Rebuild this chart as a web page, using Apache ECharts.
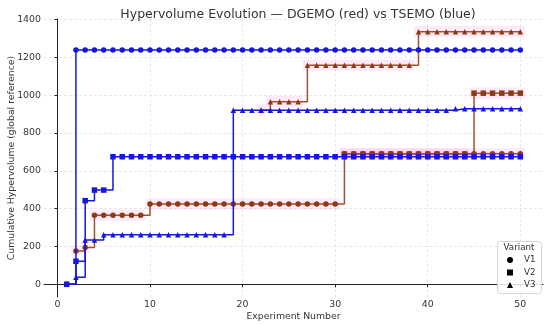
<!DOCTYPE html>
<html>
<head>
<meta charset="utf-8">
<script src="https://cdn.jsdelivr.net/npm/echarts@6/dist/echarts.min.js"></script>
<style>html,body{margin:0;padding:0;background:#fff;}#c{width:550px;height:325px;}</style>
</head>
<body>
<div id="c"></div>
<script>
const experiments = [1,2,3,4,5,6,7,8,9,10,11,12,13,14,15,16,17,18,19,20,21,22,23,24,25,26,27,28,29,30,31,32,33,34,35,36,37,38,39,40,41,42,43,44,45,46,47,48,49,50];
const xTicks = [0,10,20,30,40,50];
const yTicks = [0,200,400,600,800,1000,1200,1400];
const variants = ['V1','V2','V3'];

// TSEMO (blue)
const tsemoV1 = [0,1238,1238,1238,1238,1238,1238,1238,1238,1238,1238,1238,1238,1238,1238,1238,1238,1238,1238,1238,1238,1238,1238,1238,1238,1238,1238,1238,1238,1238,1238,1238,1238,1238,1238,1238,1238,1238,1238,1238,1238,1238,1238,1238,1238,1238,1238,1238,1238,1238];
const tsemoV2 = [0,122,442,498,498,674,674,674,674,674,674,674,674,674,674,674,674,674,674,674,674,674,674,674,674,674,674,674,674,674,674,674,674,674,674,674,674,674,674,674,674,674,674,674,674,674,674,674,674,674];
const tsemoV3 = [0,38,234,234,262,262,262,262,262,262,262,262,262,262,262,262,262,262,920,920,920,920,920,920,920,920,920,920,920,920,920,920,920,920,920,920,920,920,920,920,920,920,928,928,928,928,928,928,928,928];

// DGEMO (red)
const dgemoV1 = [null,176,194,365,365,365,365,365,365,425,425,425,425,425,425,425,425,425,425,425,425,425,425,425,425,425,425,425,425,425,690,690,690,690,690,690,690,690,690,690,690,690,690,690,690,690,690,690,690,690];
const dgemoV2 = [null,null,null,null,null,null,null,null,null,null,null,null,null,null,null,null,null,null,null,null,null,null,null,null,null,null,null,null,null,null,688,688,688,688,688,688,688,688,688,688,688,688,688,688,1010,1010,1010,1010,1010,1010];
const dgemoV3 = [null,null,null,null,null,null,null,null,null,null,null,null,null,null,null,null,null,null,null,null,null,921,965,965,965,965,1158,1158,1158,1158,1158,1158,1158,1158,1158,1158,1158,1158,1335,1335,1335,1335,1335,1335,1335,1335,1335,1335,1335,1335];
const bandHalf = 30;

const symbols = ['circle','rect','triangle'];
const symSizes = [5.5,5.5,5.5];
const BLUE = '#1616dc';
const BROWN_LINE = '#a0522d';
const BROWN_MARK = '#8b3a14';

function pairs(arr){ return experiments.map((x,i)=> arr[i]==null ? null : [x, arr[i]]).filter(p=>p); }

function bandSeries(arr){
  return {
    type:'custom', silent:true, z:1,
    data: pairs(arr),
    renderItem: function(params, api){
      const x = api.value(0), y = api.value(1);
      const p1 = api.coord([x-0.5, y+bandHalf]);
      const p2 = api.coord([x+0.5, y-bandHalf]);
      return {type:'rect', shape:{x:p1[0], y:p1[1], width:p2[0]-p1[0], height:p2[1]-p1[1]},
        style:{fill:'rgba(255,60,210,0.11)'}};
    }
  };
}
function lineSeries(arr, idx, lineColor, markColor, z){
  return {
    type:'line', step:'end', z:z, silent:true,
    data: pairs(arr),
    symbol: symbols[idx], symbolSize: symSizes[idx], showSymbol:true,
    lineStyle:{color:lineColor, width:1.5},
    itemStyle:{color:markColor, borderWidth:0},
    animation:false
  };
}

const dg = [dgemoV1,dgemoV2,dgemoV3];
const ts = [tsemoV1,tsemoV2,tsemoV3];
const series = [];
dg.forEach(a=>series.push(bandSeries(a)));
dg.forEach((a,i)=>series.push(lineSeries(a,i,BROWN_LINE,BROWN_MARK,3)));
ts.forEach((a,i)=>series.push(lineSeries(a,i,BLUE,BLUE,4)));
variants.forEach((v,i)=>series.push({type:'line', name:v, data:[], symbol:symbols[i], itemStyle:{color:'#000'}, lineStyle:{width:0}}));

const FONT = 'DejaVu Sans';
const chart = echarts.init(document.getElementById('c'), null, {renderer:'canvas'});
chart.setOption({
  animation:false,
  backgroundColor:'#fff',
  textStyle:{fontFamily:FONT},
  title:{text:'Hypervolume Evolution — DGEMO (red) vs TSEMO (blue)', left:293, textAlign:'center', top:3,
    textStyle:{fontFamily:FONT, fontSize:12.5, fontWeight:'normal', color:'#333'}},
  grid:{left:44, right:7, top:19, bottom:28, containLabel:false, outerBoundsMode:'none'},
  xAxis:{type:'value', min:-1.45, max:52.45,
    name:'Experiment Number', nameLocation:'middle', nameGap:15, nameMoveOverlap:false,
    nameTextStyle:{fontFamily:FONT, fontSize:9.3, color:'#333'},
    axisLine:{lineStyle:{color:'#222', width:1}},
    axisTick:{show:true, length:3, customValues:xTicks, lineStyle:{color:'#222'}},
    axisLabel:{customValues:xTicks, fontFamily:FONT, fontSize:9.4, color:'#333', margin:3, formatter:v=>String(v)},
    splitLine:{show:true, lineStyle:{color:'#e3e3e3', type:[3,2], width:0.8}}
  },
  yAxis:{type:'value', min:-67, max:1402,
    name:'Cumulative Hypervolume (global reference)', nameLocation:'middle', nameGap:28, nameMoveOverlap:false,
    nameTextStyle:{fontFamily:FONT, fontSize:9.3, color:'#333'},
    axisLine:{show:true, lineStyle:{color:'#222', width:1}},
    axisTick:{show:true, length:3, customValues:yTicks, lineStyle:{color:'#222'}},
    axisLabel:{customValues:yTicks, fontFamily:FONT, fontSize:9.4, color:'#333', margin:3, formatter:v=>String(v)},
    splitLine:{show:true, lineStyle:{color:'#e3e3e3', type:[3,2], width:0.8}}
  },
  legend:{orient:'vertical', left:507, top:255, itemWidth:6, itemHeight:6, itemGap:2.5, z:20, padding:0,
    data:variants.map((v,i)=>({name:v, icon:symbols[i]})),
    textStyle:{fontFamily:FONT, fontSize:8.7, lineHeight:10, color:'#333', padding:[0,0,0,6]},
    selectedMode:false},
  graphic:[
    {type:'rect', left:497, top:241, z:5, shape:{width:44, height:52, r:3},
      style:{fill:'rgba(255,255,255,0.85)', stroke:'#d6d6d6', lineWidth:1}},
    {type:'text', x:519, y:248, z:6, style:{text:'Variant', fontFamily:FONT, fontSize:8.7, fill:'#333', textAlign:'center', textVerticalAlign:'middle'}}
  ],
  series:series
});
</script>
</body>
</html>
